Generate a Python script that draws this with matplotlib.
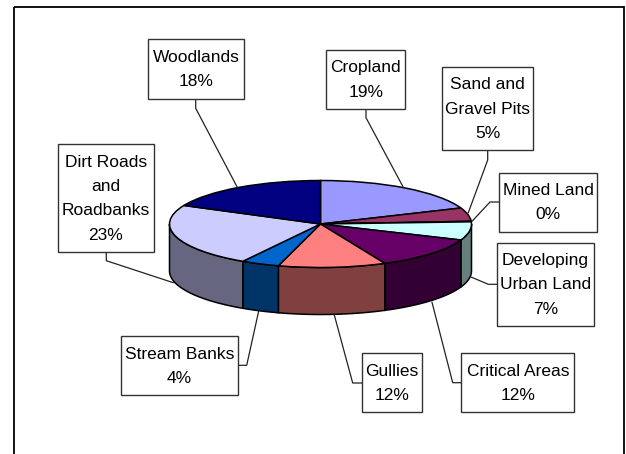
import numpy as np
import matplotlib
matplotlib.use("Agg")
import matplotlib.pyplot as plt
from matplotlib.patches import Rectangle

W, H = 626, 454
plt.rcParams['font.family'] = ['Liberation Sans', 'DejaVu Sans']

categories = ["Cropland", "Sand and\nGravel Pits", "Mined Land", "Developing\nUrban Land",
              "Critical Areas", "Gullies", "Stream Banks", "Dirt Roads\nand\nRoadbanks", "Woodlands"]
values = [19, 5, 0.2, 6.8, 12, 11.5, 4.1, 23.4, 18]
top_colors = ["#9999FF", "#993366", "#FFFFCC", "#CCFFFF", "#660066", "#FF8080", "#0066CC", "#CCCCFF", "#000080"]
side_colors = ["#4C4C80", "#4C1933", "#808066", "#668080", "#330033", "#804040", "#003366", "#666680", "#000040"]

# label boxes (left, top, right, bottom) in image pixels
boxes = [(326.3, 49.7, 405, 109), (441.7, 67, 533.3, 150.3), (499, 172.7, 597.3, 231.7),
         (496.7, 242.7, 594.3, 326), (461.3, 353.3, 574.3, 412.3), (361.7, 353.3, 421.7, 412.3),
         (120.7, 336.3, 238, 395.3), (57.7, 144.3, 154, 252.3), (148.3, 39.3, 243.5, 99)]
# leader lines in image pixels
leaders = [[(366, 109), (366, 117.7), (403.3, 187.3)],
           [(487.7, 150.3), (487.7, 160), (468.3, 212.7)],
           [(499, 202), (490, 202), (472.3, 221)],
           [(496.7, 284.3), (488.3, 284.3), (471.7, 277.3)],
           [(461.3, 382.7), (452.7, 382.7), (432, 302.3)],
           [(361.7, 383), (352.7, 383), (334.3, 315)],
           [(238, 365.3), (246.7, 365.3), (258.7, 311)],
           [(106.3, 252.3), (106.3, 260.7), (173.3, 282.7)],
           [(195.7, 99), (195.7, 108.3), (237.3, 187.3)]]

cx, cy, a, b, depth = 320.5, 224.0, 151.0, 43.5, 47.0

fig = plt.figure(figsize=(W / 100, H / 100), dpi=100, facecolor="white")

# Pie axes: unit circle squashed into an ellipse
ax = fig.add_axes([0, 0, 1, 1])
ax.pie(values, colors=top_colors, startangle=90, counterclock=False, radius=1,
       wedgeprops=dict(edgecolor="black", linewidth=1.1, zorder=3))
ax.set_aspect("auto")
ax.set_xlim((0 - cx) / a, (W - cx) / a)
ax.set_ylim((cy - H) / b, cy / b)
ax.axis("off")

# Side walls of the front half
edges = np.cumsum([0] + values) / sum(values) * 360
d = depth / b
for i, col in enumerate(side_colors):
    t0, t1 = max(edges[i], 90), min(edges[i + 1], 270)
    if t1 <= t0:
        continue
    t = np.radians(np.linspace(t0, t1, 60))
    x, y = np.sin(t), np.cos(t)
    ax.fill(np.r_[x, x[::-1]], np.r_[y, y[::-1] - d], facecolor=col, edgecolor="black",
            linewidth=1.1, zorder=2)

# Overlay in pixel coordinates
ov = fig.add_axes([0, 0, 1, 1], facecolor="none")
ov.set_xlim(0, W)
ov.set_ylim(H, 0)
ov.axis("off")
ov.add_patch(Rectangle((13.6, 6.5), 610.5, 460, facecolor="none", edgecolor="black", linewidth=1.3))

for name, v, (l, t, r, bt), pts in zip(categories, values, boxes, leaders):
    xs, ys = zip(*pts)
    ov.plot(xs, ys, color="#222222", lw=0.9, zorder=4, solid_joinstyle="miter")
    ov.add_patch(Rectangle((l, t), r - l, bt - t, facecolor="white", edgecolor="#333333",
                           linewidth=1.0, zorder=5))
    ov.text((l + r) / 2, (t + bt) / 2 + 0.5, f"{name}\n{v:.0f}%", ha="center", va="center",
            fontsize=12.5, linespacing=1.78, color="black", zorder=6)

fig.savefig("out.png", dpi=100)
